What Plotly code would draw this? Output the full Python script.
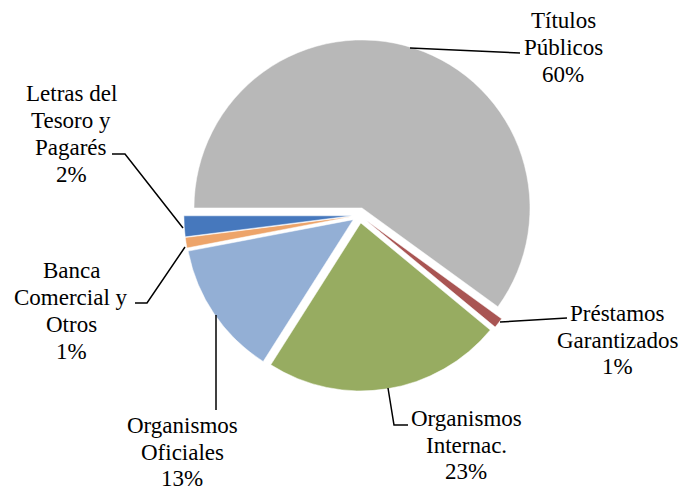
import plotly.graph_objects as go

# ---- data ----
categories = ["Títulos Públicos", "Préstamos Garantizados", "Organismos Internac.",
              "Organismos Oficiales", "Banca Comercial y Otros", "Letras del Tesoro y Pagarés"]
values = [60, 1, 23, 13, 1, 2]
label_lines = [["Títulos", "Públicos"], ["Préstamos", "Garantizados"], ["Organismos", "Internac."],
               ["Organismos", "Oficiales"], ["Banca", "Comercial y", "Otros"],
               ["Letras del", "Tesoro y", "Pagarés"]]

# ---- styling / layout ----
colors = ["#b8b8b8", "#a95553", "#97ac61", "#93afd5", "#eda46a", "#4678bd"]
W, H = 688, 492
FONT = "'Liberation Serif', 'Times New Roman', 'DejaVu Serif', serif"
FONT_SIZE = 23
LINE_GAP = 26.7
label_pos = [(563, 47.5), (617, 340), (466, 445), (182, 452), (71, 311), (71, 134)]
leader_paths = [
    [(410, 48), (520, 53)],
    [(500, 322), (567, 318)],
    [(388, 388), (394, 425), (408, 425)],
    [(216, 315), (216, 410)],
    [(185, 247), (147, 303), (135, 303)],
    [(183, 228), (125, 154), (112, 154)],
]

def px(x):
    return x / W

def py(y):
    return 1 - y / H

r = 168
pull = 0.046
half = r * (1 + pull)
cx, cy = 359.6, 215.3

fig = go.Figure(go.Pie(
    labels=categories,
    values=values,
    sort=False,
    direction="clockwise",
    rotation=270,
    pull=[pull] * len(values),
    marker=dict(colors=colors, line=dict(color="white", width=0.5)),
    textinfo="none",
    hoverinfo="label+percent",
    domain=dict(x=[px(cx - half), px(cx + half)], y=[py(cy + half), py(cy - half)]),
))

annotations = []
total = sum(values)
for lines, v, (x, y) in zip(label_lines, values, label_pos):
    all_lines = lines + [f"{round(100 * v / total)}%"]
    n = len(all_lines)
    for i, t in enumerate(all_lines):
        yy = y + (i - (n - 1) / 2) * LINE_GAP
        annotations.append(dict(
            x=px(x), y=py(yy), xref="paper", yref="paper",
            text=t, showarrow=False, xanchor="center", yanchor="middle", align="center",
            font=dict(family=FONT, size=FONT_SIZE, color="black"),
        ))

shapes = []
for path in leader_paths:
    d = "M " + " L ".join(f"{px(x)},{py(y)}" for x, y in path)
    shapes.append(dict(type="path", path=d, xref="paper", yref="paper",
                       line=dict(color="black", width=1.5)))

fig.update_layout(
    width=W, height=H,
    margin=dict(l=0, r=0, t=0, b=0),
    paper_bgcolor="white", plot_bgcolor="white",
    showlegend=False,
    font=dict(family=FONT),
    annotations=annotations,
    shapes=shapes,
)

fig.write_html("out.html", config={"displayModeBar": False},
               post_script="document.body.style.margin='0';document.body.style.overflow='hidden';")
